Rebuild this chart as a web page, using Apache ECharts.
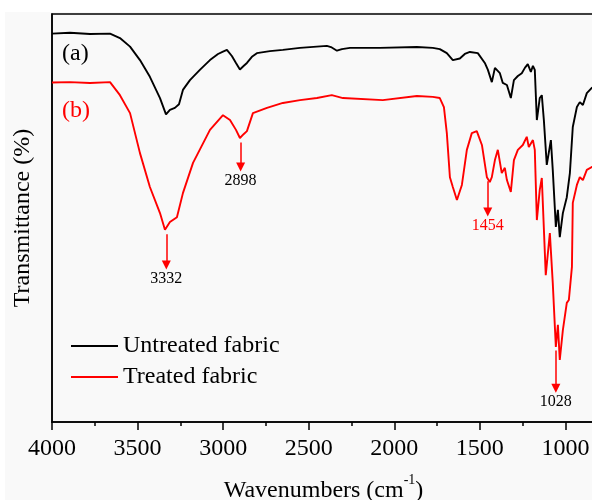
<!DOCTYPE html>
<html>
<head>
<meta charset="utf-8">
<script src="https://cdn.jsdelivr.net/npm/echarts@6/dist/echarts.min.js"></script>
<style>html,body{margin:0;padding:0;background:#fff}#c{width:592px;height:500px}</style>
</head>
<body>
<div id="c"></div>
<script>
// Untreated fabric (a): wavenumber (cm-1) and transmittance (a.u.)
var wnA = [4000,3895,3778,3661,3603,3544,3486,3428,3369,3334,3311,3282,3258,3235,3194,3136,3077,3030,3001,2978,2949,2925,2902,2879,2861,2832,2803,2727,2651,2551,2394,2370,2335,2306,2259,2084,1868,1775,1734,1693,1658,1617,1588,1558,1512,1471,1453,1430,1412,1401,1383,1366,1342,1319,1301,1278,1255,1237,1220,1202,1190,1179,1167,1150,1138,1126,1109,1085,1074,1056,1044,1033,1015,992,974,957,933,916,898,875,846,800];
var tA  = [95.2,95.4,95.1,95.2,94.1,92.0,88.7,84.6,79.4,75.4,76.5,77.0,77.9,81.4,83.8,86.3,88.7,90.2,90.8,91.2,89.7,88.0,86.4,87.3,88.0,89.5,90.4,90.9,91.2,91.7,92.2,91.9,91.0,91.4,91.7,91.7,91.9,91.7,91.4,90.4,88.7,89.1,90.2,90.7,90.4,88.0,86.3,83.3,86.8,86.7,85.5,83.1,82.6,79.4,83.8,84.8,85.5,86.8,87.7,85.8,87.3,86.3,74.0,79.4,80.1,74.0,63.0,69.1,61.8,47.8,52.0,45.3,51.2,55.1,61.0,72.3,77.2,78.4,77.7,80.6,81.9,82.6];
// Treated fabric (b)
var wnB = [4000,3895,3778,3661,3603,3544,3486,3428,3369,3340,3311,3270,3235,3176,3077,3001,2960,2925,2902,2879,2861,2826,2744,2651,2551,2452,2365,2300,2067,1868,1775,1734,1710,1693,1675,1658,1634,1605,1576,1547,1518,1488,1459,1442,1430,1412,1395,1372,1354,1342,1319,1301,1278,1249,1226,1214,1190,1179,1167,1150,1138,1115,1091,1074,1056,1044,1033,1015,992,980,962,957,933,916,898,875,846,800];
var tB  = [83.2,83.3,83.1,83.3,80.1,75.7,65.9,57.6,51.2,47.1,49.0,50.2,56.1,63.5,71.6,75.2,74.0,71.6,69.6,70.6,71.3,75.7,77.0,78.2,78.9,79.4,80.1,79.4,78.9,79.9,79.7,79.4,77.2,70.8,60.0,57.6,54.4,58.1,66.7,70.8,71.3,67.9,60.0,58.8,60.0,64.2,66.7,61.0,62.3,59.3,56.4,64.2,66.7,67.9,69.9,67.4,69.1,66.7,49.5,56.9,59.8,36.0,46.3,34.1,18.4,23.8,15.2,22.5,29.2,29.9,38.0,53.7,58.1,60.0,59.3,61.8,62.5,63.0];
// Peak annotations
var peakText = ['3332','2898','1454','1028'];
var peakWn   = [3332, 2898, 1454, 1056];
var peakTop  = [46.0, 68.5, 59.0, 17.5];
var peakTip  = [38.5, 62.5, 51.5, 8.3];
var peakRed  = [false, false, true, false];
var xTicks = [4000,3500,3000,2500,2000,1500,1000];
var seriesNames = ['Untreated fabric','Treated fabric'];

var SERIF = '"Liberation Serif","Times New Roman",serif';
function zip(a,b){return a.map(function(v,i){return [v,b[i]];});}

var markData = peakWn.map(function(w,i){
  var col = peakRed[i] ? '#ff0000' : '#000000';
  return [
    {coord:[w, peakTop[i]], name: peakText[i], label:{color:col}},
    {coord:[w, peakTip[i]], name: peakText[i], label:{color:col}}
  ];
});

var chart = echarts.init(document.getElementById('c'), null, {renderer:'canvas'});
chart.setOption({
  animation:false,
  backgroundColor:'#ffffff',
  graphic:[
    {type:'rect', z:-100, shape:{x:5,y:12,width:600,height:500}, style:{fill:'#f9f9f9'}},
    {type:'text', left:62, top:42, z:10, style:{text:'(a)', fill:'#000', font:'24px '+SERIF}},
    {type:'text', left:62, top:99, z:10, style:{text:'(b)', fill:'#ff0000', font:'24px '+SERIF}}
  ],
  grid:{left:52, top:14, width:599, height:408, show:true, borderColor:'#000', borderWidth:1.5,
        backgroundColor:'transparent', containLabel:false, outerBoundsMode:'none'},
  legend:{
    data:seriesNames, orient:'vertical', left:66, top:329, itemWidth:47, itemHeight:14, itemGap:7,
    icon:'path://M0,6 L47,6 L47,8 L0,8 Z',
    textStyle:{fontSize:24, fontFamily:SERIF, color:'#000'}
  },
  xAxis:{
    type:'value', inverse:true, min:500, max:4000, interval:500,
    name:'{n|Wavenumbers (cm}{s|-1}{n|)}', nameLocation:'middle', nameGap:51,
    nameTextStyle:{padding:[0,56,0,0],
      rich:{n:{fontSize:24, fontFamily:SERIF, color:'#000', verticalAlign:'bottom', lineHeight:30},
            s:{fontSize:14, fontFamily:SERIF, color:'#000', verticalAlign:'top', lineHeight:30, padding:[0,0,14,0]}}},
    axisLine:{show:true, onZero:false, lineStyle:{color:'#000', width:1.5}},
    axisTick:{show:true, inside:false, length:8, lineStyle:{color:'#000', width:1.5}},
    minorTick:{show:true, splitNumber:2, length:4, lineStyle:{color:'#000', width:1.5}},
    axisLabel:{fontSize:24, fontFamily:SERIF, color:'#000', margin:15,
      formatter:function(v){return xTicks.indexOf(v)>=0 ? String(v) : '';}},
    splitLine:{show:false}
  },
  yAxis:{
    type:'value', min:0, max:100,
    name:'Transmittance (%)', nameLocation:'middle', nameGap:17,
    nameTextStyle:{fontSize:24, fontFamily:SERIF, color:'#000'},
    axisLine:{show:true, lineStyle:{color:'#000', width:1.5}},
    axisTick:{show:false}, axisLabel:{show:false}, splitLine:{show:false}
  },
  series:[
    {name:seriesNames[0], type:'line', data:zip(wnA,tA), symbol:'none', showSymbol:false,
     lineStyle:{color:'#000', width:1.9}, itemStyle:{color:'#000'}},
    {name:seriesNames[1], type:'line', data:zip(wnB,tB), symbol:'none', showSymbol:false,
     lineStyle:{color:'#ff0000', width:1.9}, itemStyle:{color:'#ff0000'},
     markLine:{silent:true, symbol:['none','triangle'], symbolSize:9,
       lineStyle:{color:'#ff0000', width:1.5, type:'solid'},
       itemStyle:{color:'#ff0000'},
       label:{show:true, position:'end', distance:6, fontSize:16, fontFamily:SERIF,
         formatter:function(p){return p.name;}},
       emphasis:{disabled:true},
       data:markData}}
  ]
});
</script>
</body>
</html>
